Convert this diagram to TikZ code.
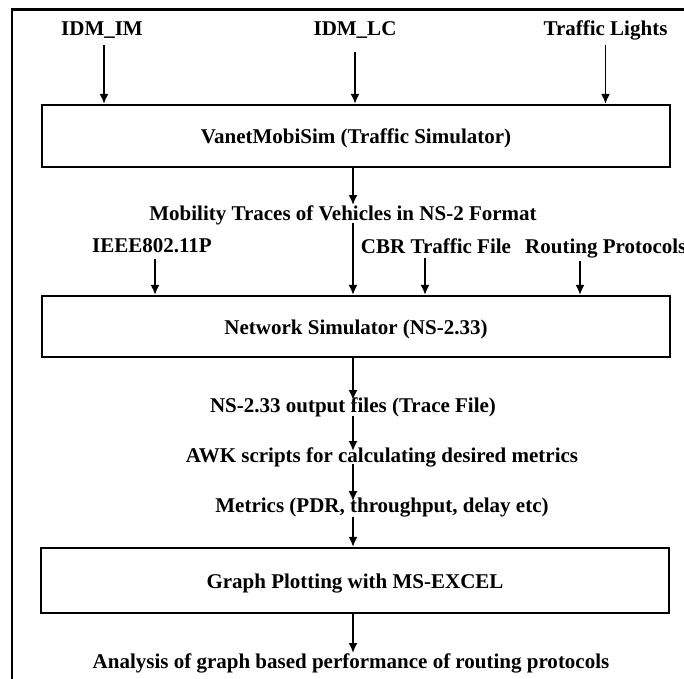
\documentclass[tikz,border=0pt]{standalone}
\usepackage{fontspec}
\setmainfont{Liberation Serif}
\usetikzlibrary{arrows.meta}
\begin{document}
\begin{tikzpicture}[x=1pt,y=-1pt,
  txt/.style={font=\fontsize{21}{25}\selectfont\bfseries, inner sep=0pt, anchor=base},
  stage/.style={draw, line width=2.2pt, inner sep=0pt, minimum width=628pt,
    text height=15pt, text depth=0pt, font=\fontsize{21}{25}\selectfont\bfseries},
  arr/.style={line width=1.8pt, -{Latex[length=10pt,width=9pt]}}]
\useasboundingbox (0,0) rectangle (684,678);
\clip (0,0) rectangle (684,678);
% outer frame (only left and top sides visible)
\draw[line width=2.4pt] (12,700) -- (12,9.5) -- (700,9.5);

% stages
\node[stage, minimum height=62pt] (sim) at (356,136) {VanetMobiSim (Traffic Simulator)};
\node[stage, minimum height=61pt] (ns) at (356,326.5) {Network Simulator (NS-2.33)};
\node[stage, minimum height=65pt] (plot) at (355,580.5) {Graph Plotting with MS-EXCEL};

% texts
\node[txt] (idmim) at (102,35) {IDM\_IM};
\node[txt] (idmlc) at (355,35) {IDM\_LC};
\node[txt] (tl) at (605.5,35) {Traffic Lights};
\node[txt] (mob) at (343,220) {Mobility Traces of Vehicles in NS-2 Format};
\node[txt] (ieee) at (152,252) {IEEE802.11P};
\node[txt] (cbr) at (436,253) {CBR Traffic File};
\node[txt, anchor=base west] (rp) at (525,253) {Routing Protocols};
\node[txt] (nsout) at (353,412) {NS-2.33 output files (Trace File)};
\node[txt] (awk) at (382,462) {AWK scripts for calculating desired metrics};
\node[txt] (met) at (382,512) {Metrics (PDR, throughput, delay etc)};
\node[txt] (ana) at (351,668) {Analysis of graph based performance of routing protocols};

\coordinate (cbrA) at ([xshift=-11pt]cbr.south);
\coordinate (rpA) at ([xshift=55pt]rp.south west);
\coordinate (ieeeA) at ([xshift=3pt]ieee.south);
\coordinate (imA) at ([xshift=2pt]idmim.south);

% inputs to VanetMobiSim
\draw[arr, shorten <=7pt] (imA) -- (imA |- sim.north);
\draw[arr, shorten <=14pt] (idmlc.south) -- (idmlc.south |- sim.north);
\draw[arr, shorten <=5pt] (tl.south) -- (tl.south |- sim.north);

% main chain
\draw[arr] (sim.south -| nsout) -- (nsout |- mob.north);
\draw[arr, shorten <=-2pt] (nsout |- mob.south) -- (nsout |- ns.north);
\draw[arr, shorten <=6pt] (ieeeA) -- (ieeeA |- ns.north);
\draw[arr, shorten <=5pt] (cbrA) -- (cbrA |- ns.north);
\draw[arr, shorten <=3pt] (rpA |- rp.south) -- (rpA |- ns.north);
\draw[arr, shorten >=-3pt] (ns.south -| nsout) -- (nsout |- nsout.north);
\draw[arr, shorten <=-1pt, shorten >=-4pt] (nsout.south) -- (nsout |- awk.north);
\draw[arr, shorten <=-3pt, shorten >=-4pt] (nsout |- awk.south) -- (nsout |- met.north);
\draw[arr] (nsout |- met.south) -- (nsout |- plot.north);
\draw[arr] (plot.south -| nsout) -- (nsout |- ana.north);
\end{tikzpicture}
\end{document}
